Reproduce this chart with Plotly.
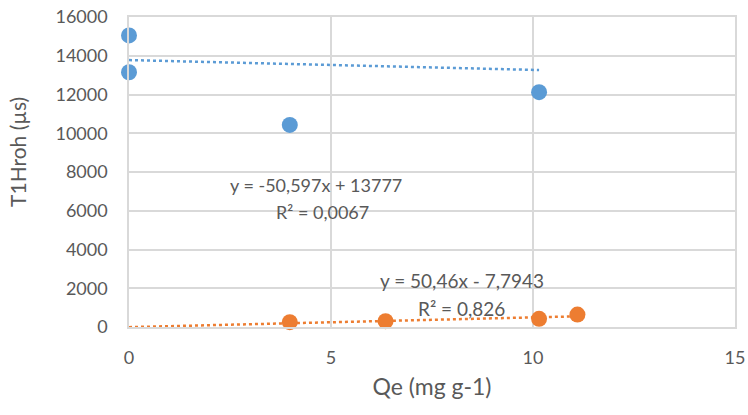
import plotly.graph_objects as go
import numpy as np

# Data
blue_x = [0, 0, 3.98, 10.15]
blue_y = [15050, 13150, 10430, 12120]
orange_x = [3.98, 6.35, 10.15, 11.1]
orange_y = [250, 300, 420, 640]

blue_slope, blue_int = -50.597, 13777
orange_slope, orange_int = 50.46, -7.7943
blue_range = [0, 10.15]
orange_range = [0, 11.1]

eq_blue = ["y = -50,597x + 13777", "R² = 0,0067"]
eq_orange = ["y = 50,46x - 7,7943", "R² = 0,826"]
x_title = "Qe (mg g-1)"
y_title = "T1Hroh (µs)"

BLUE = "#5B9BD5"
ORANGE = "#ED7D31"
TXT = "#595959"
FONT = "Lato, 'Open Sans', sans-serif"

fig = go.Figure()

bx = np.linspace(blue_range[0], blue_range[1], 50)
fig.add_trace(go.Scatter(x=bx, y=blue_slope * bx + blue_int, mode="lines",
                         line=dict(color=BLUE, width=2.5, dash="dot"), hoverinfo="skip",
                         cliponaxis=False))
ox = np.linspace(orange_range[0], orange_range[1], 50)
fig.add_trace(go.Scatter(x=ox, y=orange_slope * ox + orange_int, mode="lines",
                         line=dict(color=ORANGE, width=2.5, dash="dot"), hoverinfo="skip",
                         cliponaxis=False))

fig.add_trace(go.Scatter(x=blue_x, y=blue_y, mode="markers", cliponaxis=False,
                         marker=dict(color=BLUE, size=16)))
fig.add_trace(go.Scatter(x=orange_x, y=orange_y, mode="markers", cliponaxis=False,
                         marker=dict(color=ORANGE, size=16)))

annotations = [
    dict(x=4.63, y=7320, text=eq_blue[0], size=18),
    dict(x=4.8, y=5930, text=eq_blue[1], size=18),
    dict(x=8.24, y=2420, text=eq_orange[0], size=19),
    dict(x=8.24, y=980, text=eq_orange[1], size=19),
]
for a in annotations:
    s = a.pop("size")
    a.update(xref="x", yref="y", showarrow=False, font=dict(family=FONT, size=s, color=TXT),
             xanchor="center", yanchor="middle")
annotations.append(dict(xref="paper", yref="paper", x=-0.183, y=0.565, text=y_title,
                        textangle=-90, showarrow=False, xanchor="center", yanchor="middle",
                        font=dict(family=FONT, size=21, color=TXT)))

fig.update_layout(
    width=748, height=415,
    margin=dict(l=129, r=13, t=17, b=88),
    plot_bgcolor="white", paper_bgcolor="white",
    showlegend=False,
    font=dict(family=FONT, color=TXT, size=18),
    annotations=annotations,
    xaxis=dict(range=[0, 15], dtick=5, showgrid=True, gridcolor="#D9D9D9", gridwidth=1.5,
               zeroline=False, showline=True, linecolor="#D9D9D9", linewidth=1.5, mirror=True,
               ticks="outside", ticklen=14, tickcolor="rgba(0,0,0,0)", automargin=False,
               tickfont=dict(size=18, color=TXT),
               title=dict(text=x_title, font=dict(size=23, color=TXT), standoff=12)),
    yaxis=dict(range=[0, 16000], dtick=2000, tickformat="d", showgrid=True,
               gridcolor="#D9D9D9", gridwidth=1.5,
               zeroline=False, showline=True, linecolor="#D9D9D9", linewidth=1.5, mirror=True,
               ticks="outside", ticklen=16, tickcolor="rgba(0,0,0,0)", automargin=False,
               tickfont=dict(size=18, color=TXT)),
)

fig.write_html("out.html")
